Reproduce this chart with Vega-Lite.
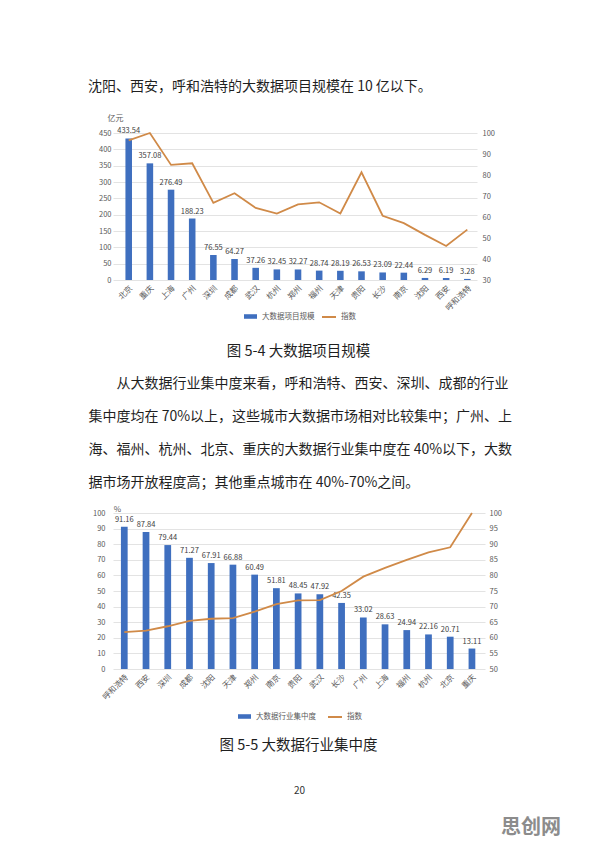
{
  "$schema": "https://vega.github.io/schema/vega-lite/v6.json",
  "background": "white",
  "padding": {"left": 88, "top": 80, "right": 5, "bottom": 8},
  "datasets": {
    "scale": [
      {"city": "北京", "value": 433.54, "index": 96.5},
      {"city": "重庆", "value": 357.08, "index": 100},
      {"city": "上海", "value": 276.49, "index": 84.8},
      {"city": "广州", "value": 188.23, "index": 85.6},
      {"city": "深圳", "value": 76.55, "index": 66.7},
      {"city": "成都", "value": 64.27, "index": 71.3},
      {"city": "武汉", "value": 37.26, "index": 64.3},
      {"city": "杭州", "value": 32.45, "index": 61.6},
      {"city": "郑州", "value": 32.27, "index": 66.0},
      {"city": "福州", "value": 28.74, "index": 67.0},
      {"city": "天津", "value": 28.19, "index": 61.7},
      {"city": "贵阳", "value": 26.53, "index": 81.3},
      {"city": "长沙", "value": 23.09, "index": 60.6},
      {"city": "南京", "value": 22.44, "index": 57.1},
      {"city": "沈阳", "value": 6.29, "index": 51.5},
      {"city": "西安", "value": 6.19, "index": 46.2},
      {"city": "呼和浩特", "value": 3.28, "index": 54.0}
    ],
    "conc": [
      {"city": "呼和浩特", "value": 91.16, "index": 61.8},
      {"city": "西安", "value": 87.84, "index": 62.3},
      {"city": "深圳", "value": 79.44, "index": 63.7},
      {"city": "成都", "value": 71.27, "index": 65.4},
      {"city": "沈阳", "value": 67.91, "index": 66.1},
      {"city": "天津", "value": 66.88, "index": 66.3},
      {"city": "郑州", "value": 60.49, "index": 68.4},
      {"city": "南京", "value": 51.81, "index": 70.8},
      {"city": "贵阳", "value": 48.45, "index": 72.0},
      {"city": "武汉", "value": 47.92, "index": 72.1},
      {"city": "长沙", "value": 42.35, "index": 75.0},
      {"city": "广州", "value": 33.02, "index": 79.6},
      {"city": "上海", "value": 28.63, "index": 82.4},
      {"city": "福州", "value": 24.94, "index": 85.0},
      {"city": "杭州", "value": 22.16, "index": 87.4},
      {"city": "北京", "value": 20.71, "index": 89.0},
      {"city": "重庆", "value": 13.11, "index": 100}
    ]
  },
  "spacing": 233,
  "bounds": "flush",
  "resolve": {
    "scale": {"fill": "independent", "stroke": "independent"},
    "legend": {"fill": "independent", "stroke": "independent"}
  },
  "vconcat": [
    {
      "width": 364,
      "height": 147,
      "title": {
        "text": "沈阳、西安，呼和浩特的大数据项目规模在 10 亿以下。",
        "anchor": "start", "frame": "group", "dx": -25, "offset": 20,
        "fontSize": 14, "fontWeight": "normal", "color": "#1f1f1f"
      },
      "data": {"name": "scale"},
      "encoding": {
        "x": {
          "field": "city", "type": "nominal", "sort": null,
          "scale": {"paddingInner": 0.69, "paddingOuter": 0.445, "align": 0.66},
          "axis": {
            "labelAngle": -45, "labelFontSize": 8, "labelPadding": 4, "grid": false,
            "title": "图 5-4 大数据项目规模", "titleFontSize": 14.5, "titleColor": "#1f1f1f",
            "titleX": 185, "titleY": 71, "titleAlign": "center", "titleBaseline": "middle"
          }
        }
      },
      "layer": [
        {
          "mark": {"type": "bar"},
          "encoding": {
            "y": {
              "field": "value", "type": "quantitative",
              "scale": {"domain": [0, 450], "nice": false},
              "axis": {
                "orient": "left", "values": [0, 50, 100, 150, 200, 250, 300, 350, 400, 450],
                "grid": true, "gridColor": "#dcdcdc", "gridWidth": 0.8, "labelPadding": 2,
                "title": "亿元", "titleFontSize": 8, "titleColor": "#595959", "titleAngle": 0,
                "titleX": 2, "titleY": -15, "titleAlign": "center", "titleBaseline": "middle"
              }
            },
            "fill": {
              "datum": "大数据项目规模", "type": "nominal",
              "scale": {"range": ["#3f6fbf"]},
              "legend": {
                "title": null, "orient": "none", "legendX": 130, "legendY": 176,
                "symbolType": "M-1,-0.35H1V0.35H-1Z", "symbolSize": 169,
                "labelFontSize": 7.5, "labelColor": "#595959", "labelOffset": 4, "padding": 0
              }
            }
          }
        },
        {
          "mark": {"type": "text", "baseline": "bottom", "dy": -3, "fontSize": 7.5, "color": "#404040"},
          "encoding": {
            "y": {"field": "value", "type": "quantitative", "scale": {"domain": [0, 450], "nice": false}, "axis": null},
            "text": {"field": "value", "type": "quantitative", "format": ".2f"}
          }
        },
        {
          "mark": {"type": "line", "strokeWidth": 1.8},
          "encoding": {
            "y": {
              "field": "index", "type": "quantitative",
              "scale": {"domain": [30, 100], "nice": false},
              "axis": {
                "orient": "right", "values": [30, 40, 50, 60, 70, 80, 90, 100],
                "grid": false, "labelPadding": 5,
                "title": [
                  "\u200b\u3000\u3000从大数据行业集中度来看，呼和浩特、西安、深圳、成都的行业",
                  "集中度均在 70%以上，这些城市大数据市场相对比较集中；广州、上",
                  "海、福州、杭州、北京、重庆的大数据行业集中度在 40%以下，大数",
                  "据市场开放程度高；其他重点城市在 40%-70%之间。"
                ],
                "titleFontSize": 14, "titleColor": "#1f1f1f", "titleAngle": 0,
                "titleAlign": "left", "titleBaseline": "alphabetic",
                "titleX": -389, "titleY": 254, "titleLineHeight": 33
              }
            },
            "stroke": {
              "datum": "指数", "type": "nominal",
              "scale": {"range": ["#d08a48"]},
              "legend": {
                "title": null, "orient": "none", "legendX": 208, "legendY": 176,
                "symbolType": "stroke", "symbolSize": 196, "symbolStrokeWidth": 2,
                "labelFontSize": 7.5, "labelColor": "#595959", "labelOffset": 4, "padding": 0
              }
            }
          }
        }
      ],
      "resolve": {"scale": {"y": "independent"}}
    },
    {
      "width": 372,
      "height": 156,
      "title": {
        "text": "思创网", "orient": "bottom", "anchor": "end", "frame": "group",
        "dx": 76, "offset": 23, "fontSize": 20, "fontWeight": "bold", "color": "#8c8c8c"
      },
      "data": {"name": "conc"},
      "encoding": {
        "x": {
          "field": "city", "type": "nominal", "sort": null,
          "scale": {"paddingInner": 0.69, "paddingOuter": 0.405, "align": 0.45},
          "axis": {
            "labelAngle": -45, "labelFontSize": 8, "labelPadding": 4, "grid": false,
            "title": "图 5-5 大数据行业集中度", "titleFontSize": 14.5, "titleColor": "#1f1f1f",
            "titleX": 185, "titleY": 76, "titleAlign": "center", "titleBaseline": "middle"
          }
        }
      },
      "layer": [
        {
          "mark": {"type": "bar"},
          "encoding": {
            "y": {
              "field": "value", "type": "quantitative",
              "scale": {"domain": [0, 100], "nice": false},
              "axis": {
                "orient": "left", "values": [0, 10, 20, 30, 40, 50, 60, 70, 80, 90, 100],
                "grid": true, "gridColor": "#dcdcdc", "gridWidth": 0.8, "labelPadding": 8,
                "title": "%", "titleFontSize": 8, "titleColor": "#595959", "titleAngle": 0,
                "titleX": 4, "titleY": -4, "titleAlign": "center", "titleBaseline": "middle"
              }
            },
            "fill": {
              "datum": "大数据行业集中度", "type": "nominal",
              "scale": {"range": ["#3f6fbf"]},
              "legend": {
                "title": null, "orient": "none", "legendX": 124, "legendY": 196,
                "symbolType": "M-1,-0.35H1V0.35H-1Z", "symbolSize": 169,
                "labelFontSize": 7.5, "labelColor": "#595959", "labelOffset": 4, "padding": 0
              }
            }
          }
        },
        {
          "mark": {"type": "text", "baseline": "bottom", "dy": -3, "fontSize": 7.5, "color": "#404040"},
          "encoding": {
            "y": {"field": "value", "type": "quantitative", "scale": {"domain": [0, 100], "nice": false}, "axis": null},
            "text": {"field": "value", "type": "quantitative", "format": ".2f"}
          }
        },
        {
          "mark": {"type": "line", "strokeWidth": 1.8},
          "encoding": {
            "y": {
              "field": "index", "type": "quantitative",
              "scale": {"domain": [50, 100], "nice": false},
              "axis": {
                "orient": "right", "values": [50, 55, 60, 65, 70, 75, 80, 85, 90, 95, 100],
                "grid": false, "labelPadding": 4,
                "title": "20", "titleFontSize": 10, "titleColor": "#333333", "titleAngle": 0,
                "titleAlign": "center", "titleBaseline": "middle",
                "titleX": -186, "titleY": 277
              }
            },
            "stroke": {
              "datum": "指数", "type": "nominal",
              "scale": {"range": ["#d08a48"]},
              "legend": {
                "title": null, "orient": "none", "legendX": 214, "legendY": 196,
                "symbolType": "stroke", "symbolSize": 196, "symbolStrokeWidth": 2,
                "labelFontSize": 7.5, "labelColor": "#595959", "labelOffset": 4, "padding": 0
              }
            }
          }
        }
      ],
      "resolve": {"scale": {"y": "independent"}}
    }
  ],
  "config": {
    "font": "Noto Sans CJK SC",
    "view": {"stroke": null},
    "axis": {
      "labelFont": "Noto Sans CJK SC", "labelFontSize": 7.5, "labelColor": "#595959",
      "ticks": false, "domain": false, "titleFont": "Noto Sans CJK SC", "titleFontWeight": "normal"
    },
    "legend": {"labelFont": "Noto Sans CJK SC"},
    "title": {"font": "Noto Sans CJK SC"}
  }
}
